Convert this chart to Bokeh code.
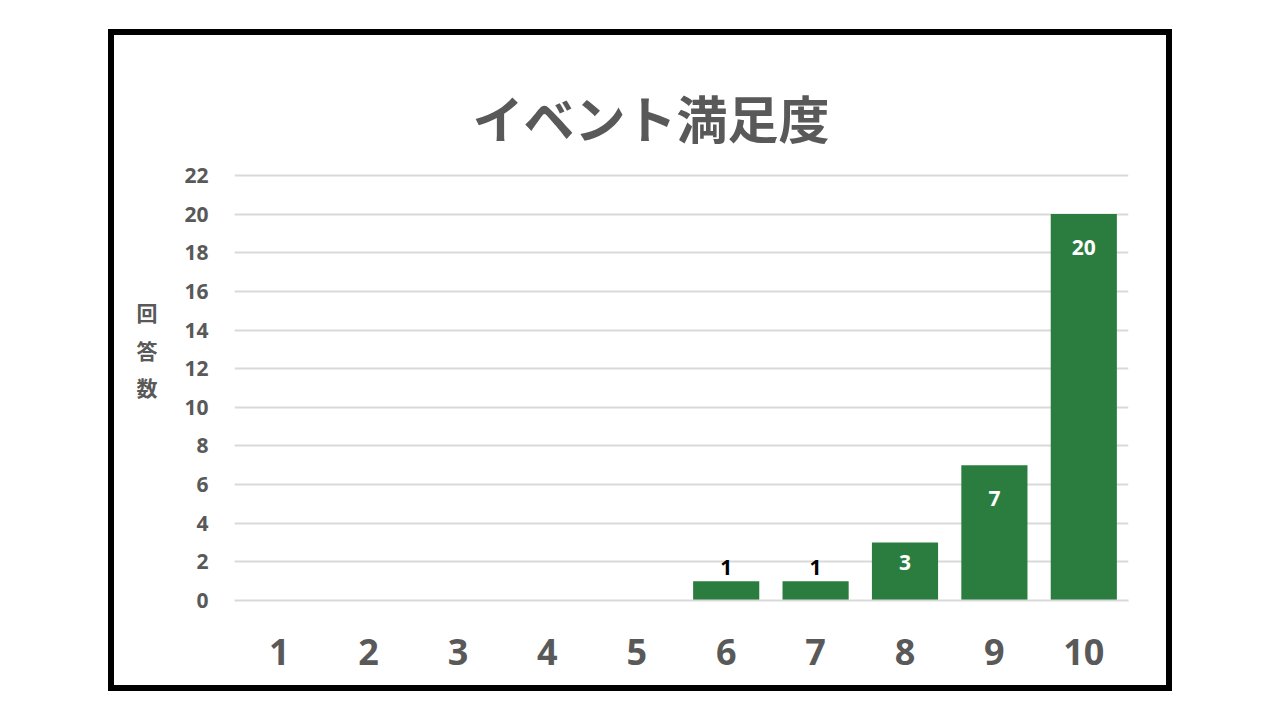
from bokeh.plotting import figure
from bokeh.models import (ColumnDataSource, FactorRange, Range1d, FixedTicker, Spacer, Div)
from bokeh.layouts import column, row
from bokeh.core.properties import value
from bokeh.embed import file_html
from bokeh.resources import INLINE

# ---- data ----
title_text = "イベント満足度"
y_label_text = "回\n答\n数"
scores = ["1", "2", "3", "4", "5", "6", "7", "8", "9", "10"]
counts = [0, 0, 0, 0, 0, 1, 1, 3, 7, 20]
y_ticks = list(range(0, 23, 2))

GREEN = "#2b7d3f"
GREY = "#595959"
NUM_FONT = "Open Sans"
JP_FONT = "Noto Sans CJK JP"

# black frame box and figure box in page pixels
BX, BY, BW, BH, BT = 108, 29, 1064, 662, 6
FX, FY, FW, FH = BX + BT, BY + BT, BW - 2 * BT, BH - 2 * BT
FRAME_L, FRAME_R, FRAME_T, FRAME_B = 234, 1128, 173, 600

p = figure(width=FW, height=FH, x_range=FactorRange(factors=scores, range_padding=0),
           y_range=Range1d(0, 22.1), output_backend="svg", toolbar_location=None,
           min_border_left=FRAME_L - FX, min_border_right=FX + FW - FRAME_R,
           min_border_top=FRAME_T - FY, min_border_bottom=FY + FH - FRAME_B)
p.outline_line_color = None
p.background_fill_color = "white"
p.border_fill_color = "white"

# bars
src = ColumnDataSource(dict(x=scores, top=counts))
p.vbar(x="x", top="top", width=0.74, source=src, fill_color=GREEN, line_color=None)

# data labels
px_per_unit = (FRAME_B - FRAME_T) / 22.1
lx, ly, lt, lc, lb, lo = [], [], [], [], [], []
for s, c in zip(scores, counts):
    if c <= 0:
        continue
    lx.append(s); ly.append(c); lt.append(str(c))
    if c <= 1:
        lc.append("black"); lb.append("bottom"); lo.append(-6)
    else:
        lc.append("white"); lb.append("middle")
        lo.append(min(33, c * px_per_unit * 0.35))
lsrc = ColumnDataSource(dict(x=lx, y=ly, t=lt, c=lc, b=lb, o=lo))
p.text(x="x", y="y", text="t", source=lsrc, text_color="c", text_baseline="b",
       y_offset="o", text_align="center", text_font=value(NUM_FONT),
       text_font_size="21px", text_font_style="bold")

# axes
p.yaxis.ticker = FixedTicker(ticks=y_ticks)
p.yaxis.axis_line_color = None
p.yaxis.major_tick_line_color = None
p.yaxis.minor_tick_line_color = None
p.yaxis.major_tick_out = 0
p.yaxis.major_label_standoff = 26
p.yaxis.major_label_text_font = NUM_FONT
p.yaxis.major_label_text_font_size = "21px"
p.yaxis.major_label_text_font_style = "bold"
p.yaxis.major_label_text_color = GREY
p.yaxis.axis_label = y_label_text + "\n\n"
p.yaxis.axis_label_orientation = "horizontal"
p.yaxis.axis_label_text_font = JP_FONT
p.yaxis.axis_label_text_font_size = "21px"
p.yaxis.axis_label_text_font_style = "bold"
p.yaxis.axis_label_text_color = GREY
p.yaxis.axis_label_text_line_height = 1.25
p.yaxis.axis_label_standoff = 24

p.xaxis.axis_line_color = "#d9d9d9"
p.xaxis.axis_line_width = 2
p.xaxis.major_tick_line_color = None
p.xaxis.minor_tick_line_color = None
p.xaxis.major_tick_out = 0
p.xaxis.major_label_standoff = 38
p.xaxis.major_label_text_font = NUM_FONT
p.xaxis.major_label_text_font_size = "36px"
p.xaxis.major_label_text_font_style = "bold"
p.xaxis.major_label_text_color = GREY

p.xgrid.grid_line_color = None
p.ygrid.grid_line_color = "#d9d9d9"
p.ygrid.grid_line_width = 2

# title
p.title.text = title_text
p.title.align = "left"
p.title.offset = 472 - FRAME_L
p.title.text_font = JP_FONT
p.title.text_font_size = "51px"
p.title.text_font_style = "bold"
p.title.text_color = GREY
p.title.standoff = 39

def bar(w, h):
    return Div(width=w, height=h, margin=0, styles={"background-color": "black"})

framed = row(bar(BT, BH),
             column(bar(FW, BT), p, bar(FW, BT), spacing=0),
             bar(BT, BH), spacing=0)
layout = column(Spacer(height=BY, margin=0),
                row(Spacer(width=BX, margin=0), framed, spacing=0), spacing=0)
open("out.html", "w").write(file_html(layout, INLINE))
